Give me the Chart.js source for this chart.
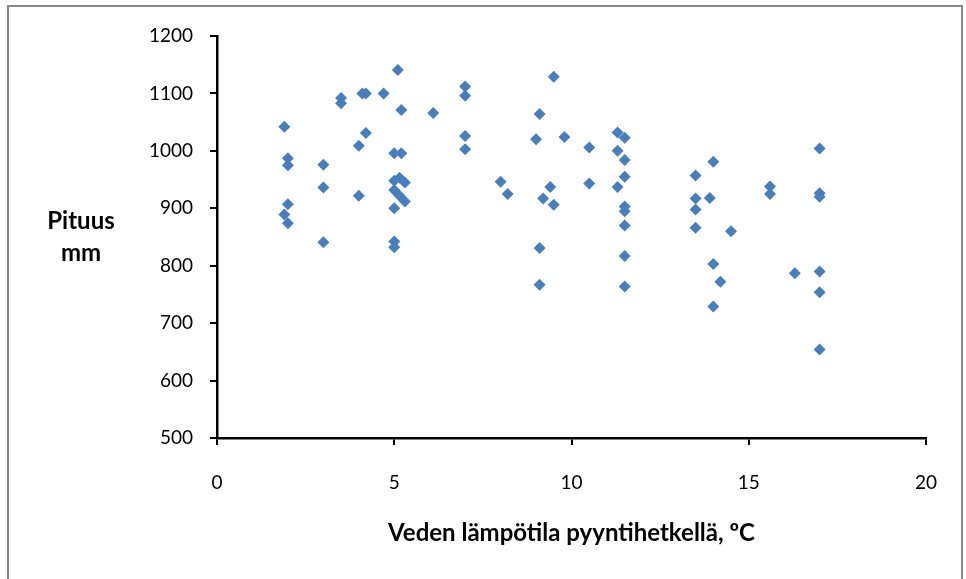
<!DOCTYPE html>
<html>
<head>
<meta charset="utf-8">
<script src="https://cdn.jsdelivr.net/npm/chart.js@4/dist/chart.umd.min.js"></script>
<style>
  html, body { margin: 0; padding: 0; background: #fff; }
  #wrap { position: relative; width: 966px; height: 579px; overflow: hidden; }
  #frame { position: absolute; left: 7px; top: 5px; width: 956px; height: 620px;
           border: 2px solid #8a8a8a; box-sizing: border-box; pointer-events: none; }
  canvas { position: absolute; left: 0; top: 0; }
</style>
</head>
<body>
<div id="wrap">
  <canvas id="c" width="966" height="579"></canvas>
  <div id="frame"></div>
</div>
<script>
// Water temperature at catch time (°C) and fish length (mm), one entry per fish
const temperatures = [
  1.9, 1.9,
  2.0, 2.0, 2.0, 2.0,
  3.0, 3.0, 3.0,
  3.5, 3.5,
  4.0, 4.0,
  4.1, 4.2, 4.2, 4.7,
  5.1, 5.2, 5.0, 5.2, 5.0, 5.0,
  5.0, 5.15, 5.3, 5.0, 5.15, 5.3, 5.0,
  6.1,
  7.0, 7.0, 7.0, 7.0,
  8.0, 8.2,
  9.0, 9.1, 9.1, 9.1, 9.2, 9.4, 9.5, 9.5, 9.8,
  10.5, 10.5,
  11.3, 11.3, 11.3,
  11.5, 11.5, 11.5, 11.5, 11.5, 11.5, 11.5, 11.5,
  13.5, 13.5, 13.5, 13.5, 13.9,
  14.0, 14.0, 14.0, 14.2, 14.5,
  15.6, 15.6, 16.3,
  17.0, 17.0, 17.0, 17.0, 17.0, 17.0
];
const lengths = [
  1042, 889,
  987, 975, 907, 874,
  976, 936, 841,
  1092, 1083,
  1009, 922,
  1100, 1100, 1031, 1100,
  1141, 1071, 996, 996, 842, 832,
  948, 953, 945, 932, 922, 912, 900,
  1066,
  1112, 1096, 1026, 1003,
  946, 925,
  1020, 1064, 831, 767, 917, 937, 1129, 906, 1024,
  1006, 943,
  1032, 1000, 937,
  1023, 984, 955, 903, 895, 870, 817, 764,
  957, 917, 898, 866, 918,
  981, 803, 729, 772, 860,
  938, 925, 787,
  1004, 926, 920, 790, 754, 654
];

// Axis ranges and tick spacing
const xTicks = [0, 5, 10, 15, 20];
const yTicks = [500, 600, 700, 800, 900, 1000, 1100, 1200];

const xTitle = 'Veden lämpötila pyyntihetkellä, ºC';
const yTitleLines = ['Pituus', 'mm'];

const points = temperatures.map((t, i) => ({ x: t, y: lengths[i] }));

const FONT = 'Lato';
const markerBlue = '#4A7EBB';
const plainNumber = (v) => String(v);

// Horizontal two-line title to the left of the value axis
const yTitlePlugin = {
  id: 'yTitleHorizontal',
  afterDraw(chart) {
    const { ctx, chartArea } = chart;
    ctx.save();
    ctx.fillStyle = '#000';
    ctx.font = 'bold 24px ' + FONT;
    ctx.textAlign = 'center';
    ctx.textBaseline = 'middle';
    const cx = chartArea.left - 136;
    const cy = (chartArea.top + chartArea.bottom) / 2;
    ctx.fillText(yTitleLines[0], cx, cy - 16);
    ctx.fillText(yTitleLines[1], cx, cy + 16);
    ctx.restore();
  }
};

new Chart(document.getElementById('c'), {
  type: 'scatter',
  data: {
    datasets: [{
      data: points,
      pointStyle: 'rectRot',
      pointRadius: 6,
      pointBackgroundColor: markerBlue,
      pointBorderColor: markerBlue,
      pointBorderWidth: 0
    }]
  },
  options: {
    responsive: false,
    animation: false,
    layout: { padding: { top: 36, right: 40, left: 0, bottom: 0 } },
    plugins: { legend: { display: false }, tooltip: { enabled: false } },
    scales: {
      x: {
        type: 'linear',
        min: xTicks[0],
        max: xTicks[xTicks.length - 1],
        afterBuildTicks: (s) => { s.ticks = xTicks.map(v => ({ value: v })); },
        afterFit: (s) => { s.height = 141; },
        ticks: { color: '#000', font: { family: FONT, size: 19 }, padding: 26, callback: plainNumber },
        grid: { drawOnChartArea: false, color: '#000', lineWidth: 2, tickLength: 7 },
        border: { color: '#000', width: 2.5 },
        title: {
          display: true,
          text: xTitle,
          color: '#000',
          font: { family: FONT, size: 24, weight: 'bold' },
          padding: { top: 0, bottom: 31 }
        }
      },
      y: {
        type: 'linear',
        min: yTicks[0],
        max: yTicks[yTicks.length - 1],
        afterBuildTicks: (s) => { s.ticks = yTicks.map(v => ({ value: v })); },
        afterFit: (s) => { s.width = 217; },
        ticks: { color: '#000', font: { family: FONT, size: 19 }, padding: 17, callback: plainNumber },
        grid: { drawOnChartArea: false, color: '#000', lineWidth: 2, tickLength: 7 },
        border: { color: '#000', width: 2.5 }
      }
    }
  },
  plugins: [yTitlePlugin]
});
</script>
</body>
</html>
